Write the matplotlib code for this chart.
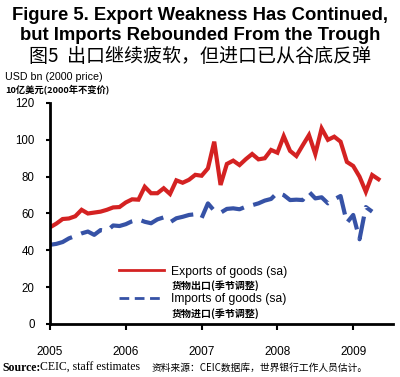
import matplotlib
matplotlib.use("Agg")
import matplotlib.pyplot as plt
from matplotlib.lines import Line2D
import numpy as np

# ---- data (monthly, Jan 2005 onward) ----
exports = [52.5, 54.5, 57, 57.3, 58.5, 62, 60, 60.5, 61, 62, 63.3, 63.5,
           66, 67.7, 67.5, 74.5, 71, 71, 73.7, 70.6, 78, 76.7, 78.3, 81,
           80.5, 84.5, 99, 75.5, 86.9, 88.7, 86.3, 89.5, 92.3, 89.4, 90, 94.5,
           93, 102, 94, 91.2, 97, 102.6, 92.3, 106.2, 100, 101.7, 99, 88,
           85.8, 80, 71.8, 80.9, 78.6]
imports = [43, 43.5, 44.5, 46.5, 47.8, 49.2, 50.2, 48.4, 51, 50.5, 53.5, 53.2,
           54.2, 55.8, 56.8, 55.5, 54.7, 56.8, 57.9, 55.2, 57.4, 58.2, 59.2, 59.6,
           57.5, 65.5, 61.5, 60.4, 62.5, 62.8, 62.3, 63.7, 64.5, 65.5, 67, 67.9,
           71.3, 70, 67.3, 67.5, 67.3, 71.8, 68.2, 68.8, 65.5, 67.7, 69.5, 55,
           59.2, 46, 63.5, 61]
year_labels = ["2005", "2006", "2007", "2008", "2009"]
y_ticks = [0, 20, 40, 60, 80, 100, 120]

plt.rcParams['lines.scale_dashes'] = False
RED = "#d42222"
BLUE = "#3652a6"
LAT = "Liberation Sans"
CJK = "Noto Sans CJK SC"

fig = plt.figure(figsize=(4.0, 3.77), dpi=100)
ax = fig.add_axes([0.125, 0.1406, 0.8575, 0.5862])

m_exp = np.arange(len(exports))
m_imp = np.arange(len(imports))
ax.plot(m_exp, exports, color=RED, lw=3.0, solid_joinstyle='miter')
ax.plot(m_imp, imports, color=BLUE, lw=3.0, dashes=(17, 7), dash_capstyle='butt')

ax.set_xlim(0, 54.3)
ax.set_ylim(0, 120)
ax.set_xticks([0, 12, 24, 36, 48])
ax.set_xticklabels(year_labels, family=LAT, fontsize=8.5)
ax.set_yticks(y_ticks)
ax.set_yticklabels([str(v) for v in y_ticks], family=LAT, fontsize=8.3)
for s in ['top', 'right']:
    ax.spines[s].set_visible(False)
for s in ['left', 'bottom']:
    ax.spines[s].set_linewidth(2.0)
ax.tick_params(axis='x', length=4, width=1.5, pad=12)
ax.tick_params(axis='y', length=3, width=1.5, pad=8)

# legend
h_exp = Line2D([], [], color=RED, lw=2.0)
h_imp = Line2D([], [], color=BLUE, lw=2.0, dashes=(7, 4))
h_none = Line2D([], [], color='none')
leg = ax.legend([h_exp, h_none, h_imp, h_none],
                ["Exports of goods (sa)", "货物出口(季节调整)",
                 "Imports of goods (sa)", "货物进口(季节调整)"],
                loc='upper left', bbox_to_anchor=(0.2, 0.265), frameon=False,
                handlelength=3.3, handletextpad=0.5, labelspacing=0.1,
                borderaxespad=0, borderpad=0)
for i, t in enumerate(leg.get_texts()):
    if i % 2 == 0:
        t.set_family([LAT, 'DejaVu Sans'])
        t.set_fontsize(8.7)
    else:
        t.set_family([CJK, 'DejaVu Sans'])
        t.set_fontsize(7.2)
        t.set_fontweight('bold')

# titles
fig.text(0.5, 0.958, "Figure 5. Export Weakness Has Continued,", ha='center', va='center',
         family=LAT, fontweight='bold', fontsize=13.3)
fig.text(0.5, 0.905, "but Imports Rebounded From the Trough", ha='center', va='center',
         family=LAT, fontweight='bold', fontsize=13.3)
fig.text(0.5, 0.849, "图5  出口继续疲软，但进口已从谷底反弹", ha='center', va='center',
         family=[CJK, 'DejaVu Sans'], fontsize=13.7)
fig.text(0.012, 0.796, "USD bn (2000 price)", ha='left', va='center',
         family=LAT, fontsize=7.7)
fig.text(0.012, 0.761, "10亿美元(2000年不变价)", ha='left', va='center',
         family=[CJK, 'DejaVu Sans'], fontsize=6.7, fontweight='bold')

fig.text(0.005, 0.024, "Source:", ha='left', va='center', family='Liberation Serif',
         fontsize=8.5, fontweight='bold')
fig.text(0.1, 0.024, "CEIC, staff estimates", ha='left', va='center',
         family='Liberation Serif', fontsize=8.5)
fig.text(0.38, 0.024, "资料来源：CEIC数据库，世界银行工作人员估计。", ha='left', va='center',
         family=[CJK, 'DejaVu Sans'], fontsize=7)

fig.savefig("out.png", dpi=100)
